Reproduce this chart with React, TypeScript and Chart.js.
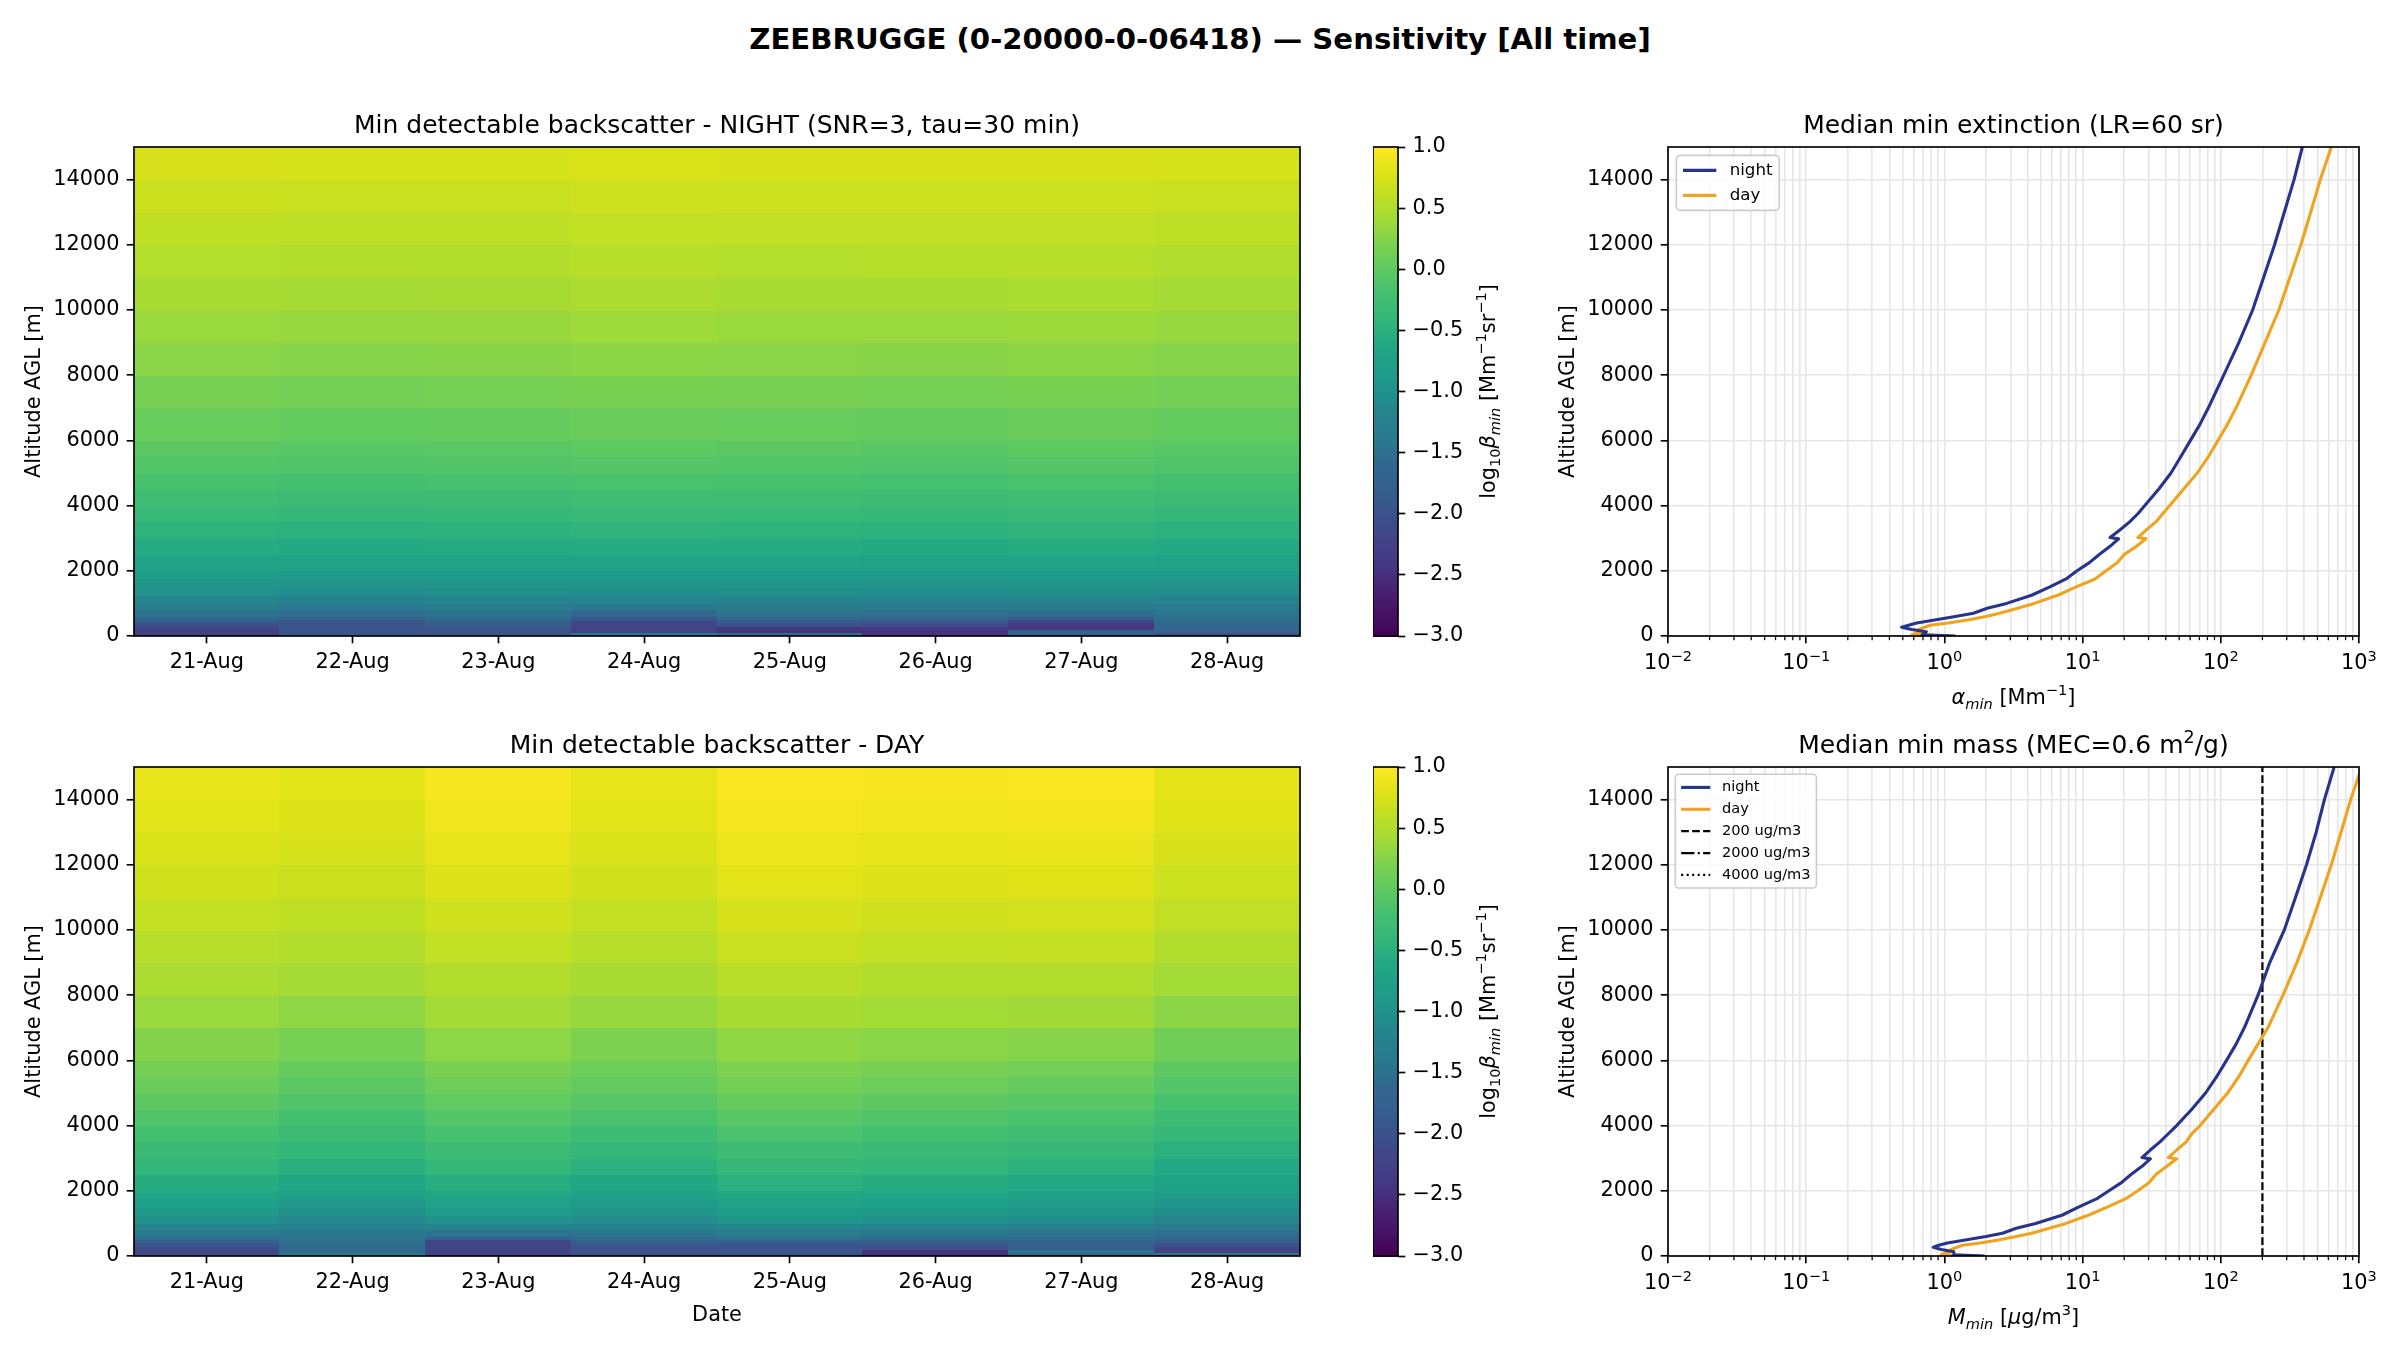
import React, { useEffect, useRef } from "react";
import { Chart, registerables } from "chart.js";
Chart.register(...registerables);

// ---------------- data ----------------
const SUPTITLE = "ZEEBRUGGE (0-20000-0-06418) — Sensitivity [All time]";
const DAYS = ["21-Aug", "22-Aug", "23-Aug", "24-Aug", "25-Aug", "26-Aug", "27-Aug", "28-Aug"];
const ALT_TICKS = [0, 2000, 4000, 6000, 8000, 10000, 12000, 14000];
const CB_TICKS = [-3, -2.5, -2, -1.5, -1, -0.5, 0, 0.5, 1];
const CB_MIN = -3;
const CB_MAX = 1;
const LOG_DECADES = [-2, -1, 0, 1, 2, 3];

// altitude bin edges of the heatmap rows [m]
const ALT_EDGES = [0, 100, 200, 300, 400, 500, 600, 800, 1000, 1250, 1500, 1750, 2000, 2500, 3000, 3500, 4000, 4500, 5000, 5500, 6000, 7000, 8000, 9000, 10000, 11000, 12000, 13000, 14000, 15000];

// log10 beta_min per day (one array per day, one value per altitude bin) - NIGHT
const NIGHT_BETA: number[][] = [
  [-2.25, -2.25, -2.2, -2.05, -1.8, -1.6, -1.45, -1.3, -1.15, -1.02, -0.92, -0.82, -0.7, -0.56, -0.46, -0.36, -0.26, -0.17, -0.09, -0.02, 0.07, 0.18, 0.28, 0.37, 0.46, 0.54, 0.61, 0.68, 0.75],
  [-1.95, -1.95, -1.95, -1.95, -1.95, -1.75, -1.55, -1.36, -1.2, -1.06, -0.95, -0.85, -0.73, -0.59, -0.49, -0.39, -0.29, -0.2, -0.12, -0.05, 0.04, 0.15, 0.26, 0.35, 0.44, 0.53, 0.6, 0.67, 0.74],
  [-2.0, -2.0, -1.95, -1.85, -1.72, -1.58, -1.45, -1.31, -1.16, -1.03, -0.93, -0.83, -0.71, -0.57, -0.47, -0.37, -0.27, -0.18, -0.1, -0.03, 0.06, 0.17, 0.27, 0.36, 0.45, 0.53, 0.6, 0.67, 0.74],
  [-1.45, -2.2, -2.25, -2.2, -2.1, -1.9, -1.6, -1.38, -1.18, -1.04, -0.93, -0.83, -0.71, -0.56, -0.45, -0.35, -0.25, -0.16, -0.08, -0.01, 0.08, 0.19, 0.29, 0.39, 0.48, 0.56, 0.63, 0.7, 0.77],
  [-1.55, -2.45, -2.45, -2.0, -1.85, -1.65, -1.48, -1.32, -1.16, -1.03, -0.93, -0.83, -0.7, -0.56, -0.46, -0.36, -0.26, -0.17, -0.09, -0.02, 0.07, 0.18, 0.28, 0.37, 0.46, 0.54, 0.62, 0.69, 0.76],
  [-2.45, -2.45, -2.4, -2.1, -1.9, -1.68, -1.5, -1.34, -1.18, -1.05, -0.95, -0.85, -0.72, -0.58, -0.48, -0.38, -0.28, -0.19, -0.11, -0.04, 0.06, 0.17, 0.27, 0.37, 0.46, 0.55, 0.62, 0.69, 0.76],
  [-1.75, -1.75, -2.4, -2.4, -2.2, -1.85, -1.55, -1.35, -1.17, -1.04, -0.93, -0.83, -0.7, -0.55, -0.45, -0.35, -0.25, -0.16, -0.08, -0.01, 0.08, 0.19, 0.29, 0.38, 0.47, 0.55, 0.62, 0.69, 0.76],
  [-2.05, -1.7, -1.65, -1.6, -1.55, -1.5, -1.42, -1.33, -1.19, -1.06, -0.96, -0.86, -0.73, -0.59, -0.49, -0.39, -0.29, -0.2, -0.12, -0.05, 0.04, 0.15, 0.26, 0.35, 0.44, 0.52, 0.6, 0.67, 0.74],
];

// log10 beta_min per day - DAY
const DAY_BETA: number[][] = [
  [-2.15, -2.15, -2.1, -1.95, -1.75, -1.55, -1.38, -1.18, -1.0, -0.88, -0.77, -0.67, -0.55, -0.42, -0.32, -0.2, -0.1, 0.0, 0.08, 0.16, 0.25, 0.37, 0.47, 0.56, 0.64, 0.71, 0.77, 0.82, 0.86],
  [-1.4, -1.55, -1.55, -1.55, -1.5, -1.45, -1.4, -1.25, -1.1, -0.98, -0.87, -0.77, -0.65, -0.52, -0.42, -0.3, -0.2, -0.1, -0.02, 0.06, 0.17, 0.31, 0.44, 0.53, 0.61, 0.68, 0.74, 0.79, 0.83],
  [-2.2, -2.2, -2.2, -2.2, -2.2, -1.8, -1.45, -1.2, -0.98, -0.86, -0.75, -0.65, -0.53, -0.4, -0.3, -0.18, -0.08, 0.02, 0.11, 0.2, 0.3, 0.43, 0.53, 0.63, 0.71, 0.78, 0.85, 0.91, 0.96],
  [-2.0, -2.0, -2.0, -1.9, -1.75, -1.58, -1.42, -1.24, -1.07, -0.95, -0.84, -0.74, -0.62, -0.49, -0.39, -0.27, -0.16, -0.06, 0.03, 0.11, 0.21, 0.35, 0.46, 0.56, 0.64, 0.71, 0.77, 0.82, 0.86],
  [-1.95, -1.95, -1.95, -1.95, -1.75, -1.52, -1.34, -1.14, -0.95, -0.83, -0.72, -0.62, -0.5, -0.37, -0.27, -0.15, -0.05, 0.05, 0.14, 0.22, 0.32, 0.46, 0.57, 0.67, 0.75, 0.82, 0.89, 0.95, 0.99],
  [-2.5, -2.45, -2.0, -2.0, -1.8, -1.58, -1.4, -1.2, -1.0, -0.88, -0.77, -0.67, -0.55, -0.42, -0.32, -0.2, -0.1, 0.0, 0.09, 0.18, 0.28, 0.42, 0.53, 0.63, 0.72, 0.79, 0.86, 0.92, 0.97],
  [-1.6, -1.45, -1.8, -1.8, -1.7, -1.55, -1.42, -1.24, -1.05, -0.93, -0.82, -0.72, -0.6, -0.47, -0.37, -0.25, -0.15, -0.04, 0.05, 0.14, 0.26, 0.41, 0.53, 0.64, 0.73, 0.8, 0.87, 0.93, 0.98],
  [-1.45, -2.2, -2.2, -2.0, -1.8, -1.65, -1.52, -1.36, -1.18, -1.06, -0.95, -0.85, -0.73, -0.6, -0.5, -0.38, -0.28, -0.17, -0.08, 0.01, 0.13, 0.29, 0.42, 0.53, 0.62, 0.69, 0.75, 0.8, 0.84],
];

// median profiles
const PROFILE_ALT = [0, 40, 130, 200, 270, 330, 400, 500, 600, 700, 850, 1000, 1250, 1500, 1750, 2000, 2250, 2500, 2750, 2980, 3020, 3250, 3500, 3750, 4000, 4500, 5000, 5500, 6000, 6500, 7000, 8000, 9000, 10000, 11000, 12000, 13000, 14000, 15000];
const NIGHT_EXT = [1.2, 0.69, 0.74, 0.58, 0.49, 0.55, 0.63, 0.87, 1.2, 1.62, 2.04, 2.82, 4.27, 5.75, 7.59, 9.12, 11.2, 13.2, 15.8, 18.2, 15.8, 18.6, 21.9, 25.1, 28.2, 35.5, 43.6, 51.3, 60.3, 70.8, 81.3, 105, 135, 170, 204, 245, 288, 339, 389];
const DAY_EXT = [1.07, 0.58, 0.68, 0.65, 0.72, 0.79, 1.07, 1.51, 2.0, 2.51, 3.39, 4.47, 6.61, 8.91, 12.3, 14.8, 17.8, 20.0, 24.5, 28.8, 25.1, 28.8, 33.9, 38.0, 42.7, 53.7, 67.6, 81.3, 95.5, 112, 129, 166, 209, 263, 316, 380, 447, 525, 631];
const NIGHT_MASS = [1.95, 1.17, 1.17, 0.95, 0.83, 0.91, 1.05, 1.45, 2.0, 2.63, 3.31, 4.57, 7.08, 9.33, 12.6, 15.5, 19.1, 22.4, 26.9, 30.9, 26.9, 30.9, 36.3, 41.7, 47.9, 61.7, 77.6, 93.3, 110, 129, 148, 186, 226, 288, 347, 417, 490, 562, 661];
const DAY_MASS = [1.78, 0.95, 1.07, 1.12, 1.23, 1.35, 1.82, 2.51, 3.31, 4.27, 5.75, 7.59, 11.0, 15.1, 20.4, 25.1, 30.2, 33.9, 40.7, 47.9, 41.7, 47.9, 56.2, 61.7, 70.8, 89.1, 112, 135, 158, 186, 219, 282, 355, 437, 525, 631, 741, 871, 1047];
const MASS_REFS = [200, 2000, 4000];
const MASS_REF_LABELS = ["200 ug/m3", "2000 ug/m3", "4000 ug/m3"];

// ---------------- styling ----------------
const FONT = '"DejaVu Sans", sans-serif';
const PX = 150 / 72;
const TICK_FS = 10 * PX;
const TITLE_FS = 12 * PX;
const LABEL_FS = 10 * PX;
const MAJOR_LEN = 3.5 * PX;
const MINOR_LEN = 2 * PX;
const TICK_W = 0.8 * PX;
const MINOR_W = 0.6 * PX;
const PAD = 3.5 * PX;
const SPINE_W = 0.8 * PX;
const GRID_C = "#e6e6e6";
const GRID_W = 1.6;
const NIGHT_C = "#27348b";
const DAY_C = "#f0a31f";
const LINE_W = 3.1;
const REF_W = 2.2;
const REF_DASHES = [[7.7, 3.3], [13.3, 3.3, 2.1, 3.3], [2.1, 3.4]];

const VIRIDIS = ["#440154", "#471365", "#482475", "#443983", "#414487", "#3b528b", "#355f8d", "#31688e", "#2a788e", "#26828e", "#21918c", "#1f9e89", "#22a884", "#35b779", "#44bf70", "#5ec962", "#7ad151", "#a0da39", "#bddf26", "#dfe318", "#fde725"];
const VIR_RGB = VIRIDIS.map((h) => [parseInt(h.slice(1, 3), 16), parseInt(h.slice(3, 5), 16), parseInt(h.slice(5, 7), 16)]);
function viridis(t: number): string {
  const c = Math.max(0, Math.min(1, t)) * (VIR_RGB.length - 1);
  const i = Math.min(VIR_RGB.length - 2, Math.floor(c));
  const f = c - i;
  const a = VIR_RGB[i], b = VIR_RGB[i + 1];
  return `rgb(${Math.round(a[0] + (b[0] - a[0]) * f)},${Math.round(a[1] + (b[1] - a[1]) * f)},${Math.round(a[2] + (b[2] - a[2]) * f)})`;
}

type Seg = { t: string; it?: boolean; sub?: boolean; sup?: boolean };
function segFont(s: Seg, size: number) {
  const sz = s.sub || s.sup ? size * 0.7 : size;
  return `${s.it ? "italic " : ""}${sz}px ${FONT}`;
}
function drawRich(ctx: CanvasRenderingContext2D, segs: Seg[], x: number, y: number, size: number, align: "center" | "left", rot = 0, baseline: CanvasTextBaseline = "alphabetic") {
  ctx.save();
  ctx.translate(x, y);
  if (rot) ctx.rotate(rot);
  ctx.fillStyle = "#000";
  ctx.textAlign = "left";
  ctx.textBaseline = baseline;
  let total = 0;
  const widths = segs.map((s) => {
    ctx.font = segFont(s, size);
    const w = ctx.measureText(s.t).width;
    total += w;
    return w;
  });
  let cx = align === "center" ? -total / 2 : 0;
  segs.forEach((s, i) => {
    ctx.font = segFont(s, size);
    const dy = s.sub ? size * 0.22 : s.sup ? -size * 0.42 : 0;
    ctx.fillText(s.t, cx, dy);
    cx += widths[i];
  });
  ctx.restore();
}

const minus = (v: number) => (v < 0 ? "\u2212" + Math.abs(v) : String(v));
const isDecade = (v: number) => Math.abs(Math.log10(v) - Math.round(Math.log10(v))) < 1e-9;
const LOG_TICKS: number[] = [];
LOG_DECADES.forEach((d, i) => {
  LOG_TICKS.push(Math.pow(10, d));
  if (i < LOG_DECADES.length - 1) for (let k = 2; k <= 9; k++) LOG_TICKS.push(k * Math.pow(10, d));
});

// ---------------- layout (pixels) ----------------
const PLOT_TOPS = [147, 767];
const PLOT_H = 489;
const MT = 90;
const MB = 90;
const HEAT_ML = 134, HEAT_W = 1166, HEAT_MR = 40;
const CB_L = 1373, CB_W = 25, CB_MR = 150;
const LINE_L = 1668, LINE_PW = 691, LINE_ML = 110, LINE_MR = 40;

const tickFont = { size: TICK_FS, family: FONT };

function altScale(gridOn: boolean, width: number) {
  return {
    type: "linear",
    min: 0,
    max: 15000,
    afterBuildTicks: (s: any) => {
      s.ticks = ALT_TICKS.map((v) => ({ value: v }));
    },
    afterFit: (s: any) => {
      s.width = width;
    },
    ticks: { callback: (v: any) => String(v), font: tickFont, color: "#000", padding: PAD, autoSkip: false },
    grid: { drawOnChartArea: gridOn, color: GRID_C, lineWidth: GRID_W, drawTicks: true, tickLength: MAJOR_LEN, tickColor: "#000", tickWidth: TICK_W },
    border: { display: false },
  };
}

type Decor = { title: Seg[]; xlabel?: Seg[]; xlabelDy?: number; ylabel?: boolean; logTicks?: boolean };
function decorPlugin(d: Decor) {
  return {
    id: "decor",
    afterDraw(chart: any) {
      const { ctx, chartArea: a } = chart;
      ctx.save();
      ctx.strokeStyle = "#000";
      ctx.lineWidth = SPINE_W;
      ctx.strokeRect(a.left, a.top, a.right - a.left, a.bottom - a.top);
      ctx.restore();
      drawRich(ctx, d.title, (a.left + a.right) / 2, a.top - 14, TITLE_FS, "center");
      if (d.ylabel) drawRich(ctx, [{ t: "Altitude AGL [m]" }], a.left - 94, (a.top + a.bottom) / 2, LABEL_FS, "center", -Math.PI / 2);
      if (d.xlabel) drawRich(ctx, d.xlabel, (a.left + a.right) / 2, a.bottom + (d.xlabelDy || 65), LABEL_FS, "center");
      if (d.logTicks) {
        const x = chart.scales.x;
        ctx.save();
        ctx.strokeStyle = "#000";
        ctx.lineWidth = MINOR_W;
        LOG_TICKS.filter((v) => !isDecade(v)).forEach((v) => {
          const px = x.getPixelForValue(v);
          ctx.beginPath();
          ctx.moveTo(px, a.bottom);
          ctx.lineTo(px, a.bottom + MINOR_LEN);
          ctx.stroke();
        });
        ctx.restore();
        LOG_DECADES.forEach((dd) => {
          const px = x.getPixelForValue(Math.pow(10, dd));
          drawRich(ctx, [{ t: "10" }, { t: minus(dd), sup: true }], px, a.bottom + 33.3, TICK_FS, "center");
        });
      }
    },
  };
}

function heatPlugin(grid: number[][]) {
  return {
    id: "heat",
    beforeDatasetsDraw(chart: any) {
      const { ctx, chartArea: a, scales } = chart;
      const x = scales.x, y = scales.y;
      ctx.save();
      ctx.beginPath();
      ctx.rect(a.left, a.top, a.right - a.left, a.bottom - a.top);
      ctx.clip();
      grid.forEach((col, i) => {
        const x0 = x.getPixelForValue(i - 0.5), x1 = x.getPixelForValue(i + 0.5);
        col.forEach((v, j) => {
          const y0 = y.getPixelForValue(ALT_EDGES[j]), y1 = y.getPixelForValue(ALT_EDGES[j + 1]);
          ctx.fillStyle = viridis((v - CB_MIN) / (CB_MAX - CB_MIN));
          ctx.fillRect(Math.floor(x0), Math.floor(y1), Math.ceil(x1) - Math.floor(x0), Math.ceil(y0) - Math.floor(y1));
        });
      });
      ctx.restore();
    },
  };
}

const colorbarPlugin = {
  id: "cbar",
  beforeDatasetsDraw(chart: any) {
    const { ctx, chartArea: a, scales } = chart;
    const y = scales.y;
    const n = 256;
    for (let k = 0; k < n; k++) {
      const v0 = CB_MIN + ((CB_MAX - CB_MIN) * k) / n;
      const v1 = CB_MIN + ((CB_MAX - CB_MIN) * (k + 1)) / n;
      const p0 = y.getPixelForValue(v0), p1 = y.getPixelForValue(v1);
      ctx.fillStyle = viridis((k + 0.5) / n);
      ctx.fillRect(a.left, p1, a.right - a.left, p0 - p1 + 0.8);
    }
  },
  afterDraw(chart: any) {
    const { ctx, chartArea: a } = chart;
    ctx.save();
    ctx.strokeStyle = "#000";
    ctx.lineWidth = SPINE_W;
    ctx.strokeRect(a.left, a.top, a.right - a.left, a.bottom - a.top);
    ctx.restore();
    drawRich(
      ctx,
      [{ t: "log" }, { t: "10", sub: true }, { t: "β", it: true }, { t: "min", it: true, sub: true }, { t: " [Mm" }, { t: "\u22121", sup: true }, { t: "sr" }, { t: "\u22121", sup: true }, { t: "]" }],
      a.right + 97,
      (a.top + a.bottom) / 2,
      LABEL_FS,
      "center",
      -Math.PI / 2
    );
  },
};

function legendPlugin(fs: number) {
  return {
    id: "mplLegend",
    afterDatasetsDraw(chart: any) {
      const { ctx, chartArea: a } = chart;
      const ds = chart.data.datasets;
      const pad = fs * 0.4, axPad = fs * 0.5, handle = fs * 2, tpad = fs * 0.8, row = fs * 1.5;
      ctx.save();
      ctx.font = `${fs}px ${FONT}`;
      const tw = Math.max(...ds.map((d: any) => ctx.measureText(d.label).width));
      const w = pad * 2 + handle + tpad + tw;
      const h = pad * 2 + fs * ds.length + fs * 0.5 * (ds.length - 1);
      const x0 = a.left + axPad, y0 = a.top + axPad;
      ctx.beginPath();
      ctx.roundRect(x0, y0, w, h, fs * 0.25);
      ctx.fillStyle = "rgba(255,255,255,0.8)";
      ctx.fill();
      ctx.strokeStyle = "#cccccc";
      ctx.lineWidth = 1.6;
      ctx.stroke();
      ds.forEach((d: any, i: number) => {
        const cy = y0 + pad + fs / 2 + i * row;
        ctx.beginPath();
        ctx.setLineDash(d.borderDash || []);
        ctx.strokeStyle = d.borderColor;
        ctx.lineWidth = d.borderWidth;
        ctx.moveTo(x0 + pad, cy);
        ctx.lineTo(x0 + pad + handle, cy);
        ctx.stroke();
        ctx.setLineDash([]);
        ctx.fillStyle = "#000";
        ctx.textBaseline = "middle";
        ctx.textAlign = "left";
        ctx.fillText(d.label, x0 + pad + handle + tpad, cy);
      });
      ctx.restore();
    },
  };
}

const baseOptions = {
  responsive: false,
  maintainAspectRatio: false,
  animation: false,
  devicePixelRatio: 1,
  events: [],
  plugins: { legend: { display: false }, tooltip: { enabled: false } },
};

function heatConfig(grid: number[][], title: string, withDate: boolean) {
  return {
    type: "scatter",
    data: { datasets: [] },
    options: {
      ...baseOptions,
      layout: { padding: { left: 0, top: MT, right: HEAT_MR, bottom: 0 } },
      scales: {
        x: {
          type: "linear",
          min: -0.5,
          max: DAYS.length - 0.5,
          afterBuildTicks: (s: any) => {
            s.ticks = DAYS.map((_, i) => ({ value: i }));
          },
          afterFit: (s: any) => {
            s.height = MB;
          },
          ticks: { callback: (v: any) => DAYS[Math.round(v)], font: tickFont, color: "#000", padding: PAD, autoSkip: false, maxRotation: 0 },
          grid: { drawOnChartArea: false, drawTicks: true, tickLength: MAJOR_LEN, tickColor: "#000", tickWidth: TICK_W },
          border: { display: false },
        },
        y: altScale(false, HEAT_ML),
      },
    },
    plugins: [heatPlugin(grid), decorPlugin({ title: [{ t: title }], ylabel: true, xlabel: withDate ? [{ t: "Date" }] : undefined, xlabelDy: 65 })],
  };
}

function cbConfig() {
  return {
    type: "scatter",
    data: { datasets: [] },
    options: {
      ...baseOptions,
      layout: { padding: { left: 0, top: MT, right: 0, bottom: MB } },
      scales: {
        x: { display: false, min: 0, max: 1, afterFit: (s: any) => { s.height = 0; } },
        y: {
          type: "linear",
          position: "right",
          min: CB_MIN,
          max: CB_MAX,
          afterBuildTicks: (s: any) => {
            s.ticks = CB_TICKS.map((v) => ({ value: v }));
          },
          afterFit: (s: any) => {
            s.width = CB_MR;
          },
          ticks: { callback: (v: any) => (v < 0 ? "\u2212" : "") + Math.abs(v).toFixed(1), font: tickFont, color: "#000", padding: PAD, autoSkip: false },
          grid: { drawOnChartArea: false, drawTicks: true, tickLength: MAJOR_LEN, tickColor: "#000", tickWidth: TICK_W },
          border: { display: false },
        },
      },
    },
    plugins: [colorbarPlugin],
  };
}

function profileDataset(label: string, values: number[], color: string) {
  return {
    label,
    data: PROFILE_ALT.map((z, i) => ({ x: values[i], y: z })),
    borderColor: color,
    backgroundColor: color,
    borderWidth: LINE_W,
    borderJoinStyle: "round",
    showLine: true,
    pointRadius: 0,
    tension: 0,
  };
}

function lineConfig(datasets: any[], title: Seg[], xlabel: Seg[], legendFs: number) {
  return {
    type: "scatter",
    data: { datasets },
    options: {
      ...baseOptions,
      layout: { padding: { left: 0, top: MT, right: LINE_MR, bottom: 0 } },
      scales: {
        x: {
          type: "logarithmic",
          min: 0.01,
          max: 1000,
          afterBuildTicks: (s: any) => {
            s.ticks = LOG_TICKS.map((v) => ({ value: v, major: isDecade(v) }));
          },
          afterFit: (s: any) => {
            s.height = MB;
          },
          ticks: { display: false, autoSkip: false },
          grid: {
            drawOnChartArea: true,
            color: GRID_C,
            lineWidth: GRID_W,
            drawTicks: true,
            tickLength: MAJOR_LEN,
            tickColor: (c: any) => (c.tick && isDecade(c.tick.value) ? "#000" : "rgba(0,0,0,0)"),
            tickWidth: TICK_W,
          },
          border: { display: false },
        },
        y: altScale(true, LINE_ML),
      },
    },
    plugins: [legendPlugin(legendFs), decorPlugin({ title, xlabel, xlabelDy: 68, ylabel: true, logTicks: true })],
  };
}

export default function App() {
  const nightHeat = useRef<HTMLCanvasElement>(null);
  const dayHeat = useRef<HTMLCanvasElement>(null);
  const cb1 = useRef<HTMLCanvasElement>(null);
  const cb2 = useRef<HTMLCanvasElement>(null);
  const ext = useRef<HTMLCanvasElement>(null);
  const mass = useRef<HTMLCanvasElement>(null);

  useEffect(() => {
    document.body.style.margin = "0";
    Chart.defaults.font.family = FONT;
    Chart.defaults.color = "#000";
    const charts: Chart[] = [];
    const mk = (ref: any, cfg: any) => {
      if (ref.current) charts.push(new Chart(ref.current, cfg));
    };
    mk(nightHeat, heatConfig(NIGHT_BETA, "Min detectable backscatter - NIGHT (SNR=3, tau=30 min)", false));
    mk(dayHeat, heatConfig(DAY_BETA, "Min detectable backscatter - DAY", true));
    mk(cb1, cbConfig());
    mk(cb2, cbConfig());
    mk(
      ext,
      lineConfig(
        [profileDataset("night", NIGHT_EXT, NIGHT_C), profileDataset("day", DAY_EXT, DAY_C)],
        [{ t: "Median min extinction (LR=60 sr)" }],
        [{ t: "α", it: true }, { t: "min", it: true, sub: true }, { t: " [Mm" }, { t: "\u22121", sup: true }, { t: "]" }],
        8 * PX
      )
    );
    mk(
      mass,
      lineConfig(
        [
          profileDataset("night", NIGHT_MASS, NIGHT_C),
          profileDataset("day", DAY_MASS, DAY_C),
          ...MASS_REFS.map((m, i) => ({
            label: MASS_REF_LABELS[i],
            data: [{ x: m, y: 0 }, { x: m, y: 15000 }],
            borderColor: "#000",
            backgroundColor: "#000",
            borderWidth: REF_W,
            borderDash: REF_DASHES[i],
            showLine: true,
            pointRadius: 0,
          })),
        ],
        [{ t: "Median min mass (MEC=0.6 m" }, { t: "2", sup: true }, { t: "/g)" }],
        [{ t: "M", it: true }, { t: "min", it: true, sub: true }, { t: " [" }, { t: "μ", it: true }, { t: "g/m" }, { t: "3", sup: true }, { t: "]" }],
        7 * PX
      )
    );
    return () => charts.forEach((c) => c.destroy());
  }, []);

  const box = (left: number, top: number, w: number, h: number) => ({
    style: { position: "absolute" as const, left, top, width: w, height: h },
    width: w,
    height: h,
  });
  const H = MT + PLOT_H + MB;

  return (
    <div style={{ position: "relative", width: 2400, height: 1350, background: "#fff", overflow: "hidden" }}>
      <div
        style={{
          position: "absolute",
          left: 0,
          top: 22,
          width: 2400,
          textAlign: "center",
          fontFamily: FONT,
          fontWeight: "bold",
          fontSize: 14 * PX,
          lineHeight: "34px",
          color: "#000",
        }}
      >
        {SUPTITLE}
      </div>
      <canvas ref={nightHeat} {...box(0, PLOT_TOPS[0] - MT, HEAT_ML + HEAT_W + HEAT_MR, H)} />
      <canvas ref={dayHeat} {...box(0, PLOT_TOPS[1] - MT, HEAT_ML + HEAT_W + HEAT_MR, H)} />
      <canvas ref={cb1} {...box(CB_L, PLOT_TOPS[0] - MT, CB_W + CB_MR, H)} />
      <canvas ref={cb2} {...box(CB_L, PLOT_TOPS[1] - MT, CB_W + CB_MR, H)} />
      <canvas ref={ext} {...box(LINE_L - LINE_ML, PLOT_TOPS[0] - MT, LINE_ML + LINE_PW + LINE_MR, H)} />
      <canvas ref={mass} {...box(LINE_L - LINE_ML, PLOT_TOPS[1] - MT, LINE_ML + LINE_PW + LINE_MR, H)} />
    </div>
  );
}
